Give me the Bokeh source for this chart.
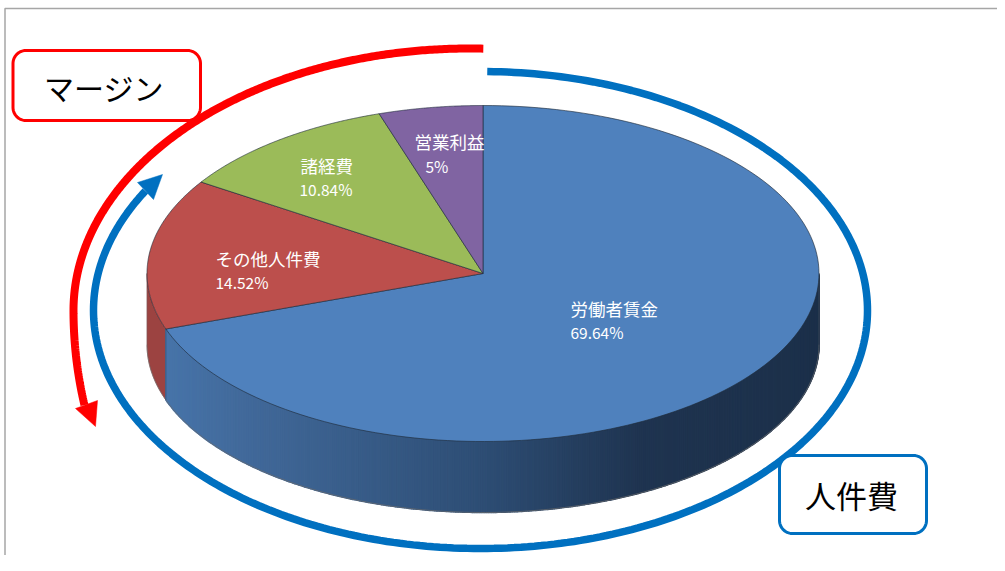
import numpy as np
from bokeh.plotting import figure
from bokeh.models import Range1d
from bokeh.core.properties import value
from bokeh.embed import file_html
from bokeh.resources import INLINE

# ---- data ----
categories = ["労働者賃金", "その他人件費", "諸経費", "営業利益"]
shares = [69.64, 14.52, 10.84, 5]
top_colors = ["#4f81bd", "#bc4f4c", "#9bbb59", "#8064a2"]
label_xy = [(570, 308), (215, 258), (300, 165), (414, 141)]
value_xy = [(570, 331), (215, 281), (299, 188), (425, 165)]

W, H = 997, 555
CX, CY, RX, RY, DEPTH = 482.5, 273, 336, 168, 71
FONT = value("Noto Sans CJK JP")

p = figure(width=W, height=H, output_backend="svg", toolbar_location=None,
           x_range=Range1d(0, W), y_range=Range1d(H, 0),
           min_border=0, outline_line_color=None, background_fill_color="white")
p.axis.visible = False
p.grid.visible = False

def rim(t, dy=0.0):
    return CX + RX * np.sin(t), CY + dy - RY * np.cos(t)

cum = np.concatenate([[0], np.cumsum(shares)]) / sum(shares) * 2 * np.pi

# frame
p.line([4.5, 4.5, W], [H, 8, 8], line_color="#a6a6a6", line_width=1.5)

# side walls: red piece
t0, t1 = cum[1], 1.5 * np.pi
ts = np.linspace(t0, t1, 40)
x1, y1 = rim(ts)
x2, y2 = rim(ts[::-1], DEPTH)
p.patch(np.r_[x1, x2], np.r_[y1, y2], fill_color="#9c4341", line_color="#9c4341", line_width=0.5)

# side walls: blue piece, shaded strip by strip
stops_x = [165, 240, 480, 640, 819]
stops_rgb = np.array([[0x47, 0x74, 0xa9], [0x42, 0x6a, 0x9b], [0x2e, 0x4e, 0x75],
                      [0x1f, 0x34, 0x50], [0x1c, 0x30, 0x4a]], dtype=float)
edges = np.linspace(0.5 * np.pi, cum[1], 400)
xs, ys, cols = [], [], []
for a, b in zip(edges[:-1], edges[1:]):
    xa, ya = rim(np.array([a, b]))
    xb, yb = rim(np.array([b, a]), DEPTH)
    xs.append(np.r_[xa, xb].tolist())
    ys.append(np.r_[ya, yb].tolist())
    mx = (xa[0] + xa[1]) / 2
    rgb = [np.interp(mx, stops_x, stops_rgb[:, i]) for i in range(3)]
    cols.append("#%02x%02x%02x" % tuple(int(round(c)) for c in rgb))
p.patches(xs, ys, fill_color=cols, line_color=cols, line_width=1.5)

# wall edges
bt = np.linspace(0.5 * np.pi, 1.5 * np.pi, 200)
bx, by = rim(bt, DEPTH)
p.line(bx, by, line_color="#6b6b6b", line_width=1, line_alpha=0.7)
ex, ey = rim(np.array([cum[1]]))
p.line([ex[0], ex[0]], [ey[0], ey[0] + DEPTH], line_color="#2a3a50", line_width=0.8, line_alpha=0.6)
for tv in (0.5 * np.pi, 1.5 * np.pi):
    ex, ey = rim(np.array([tv]))
    p.line([ex[0], ex[0]], [ey[0], ey[0] + DEPTH], line_color="#6b6b6b", line_width=0.8, line_alpha=0.5)

# top faces
for i, c in enumerate(top_colors):
    ts = np.linspace(cum[i], cum[i + 1], 160)
    x, y = rim(ts)
    p.patch(np.r_[CX, x], np.r_[CY, y], fill_color=c, line_color="#1e2b3a",
            line_width=0.9, line_alpha=0.7)

# labels
for name, share, (lx, ly), (vx, vy) in zip(categories, shares, label_xy, value_xy):
    p.text([lx], [ly], text=[name], text_color="white", text_font=FONT,
           text_font_size="17.5px", text_baseline="middle", text_align="left")
    p.text([vx], [vy], text=[f"{share}%"], text_color="white", text_font=FONT,
           text_font_size="15.5px", text_baseline="middle", text_align="left")

# annotation arcs
def arc(cx, cy, rx, ry_up, ry_low, a0, a1, n=300):
    th = np.radians(np.linspace(a0, a1, n))
    s = np.sin(th)
    return cx + rx * np.cos(th), cy - np.where(s >= 0, ry_up, ry_low) * s

rx_, ry_ = arc(469, 310, 396, 262, 405, 88, 193.5)
p.line(rx_, ry_, line_color="#ff0000", line_width=8)
p.patch([75, 97, 95], [408, 400, 426], fill_color="#ff0000", line_color="#ff0000", line_width=0.5)

bx_, by_ = arc(480, 310, 387, 239, 238, 89, -210)
p.line(bx_, by_, line_color="#0070c0", line_width=7.5)
p.patch([137, 162, 153], [182, 174, 199], fill_color="#0070c0", line_color="#0070c0", line_width=0.5)

# callout boxes
def round_box(x0, y0, x1, y1, r):
    xs, ys = [], []
    for cx, cy, a in [(x1 - r, y0 + r, -90), (x1 - r, y1 - r, 0), (x0 + r, y1 - r, 90), (x0 + r, y0 + r, 180)]:
        th = np.radians(np.linspace(a, a + 90, 14))
        xs.extend(cx + r * np.cos(th))
        ys.extend(cy + r * np.sin(th))
    return xs, ys

for (x0, y0, x1, y1), col, txt, size, tx, ty in [
        ((12.5, 50, 200, 120), "#ff0000", "マージン", "30px", 103.5, 86),
        ((779, 455, 926, 533), "#0070c0", "人件費", "31px", 851, 494)]:
    xs, ys = round_box(x0, y0, x1, y1, 13)
    p.patch(xs, ys, fill_color="white", line_color=col, line_width=3)
    p.text([tx], [ty], text=[txt], text_color="black", text_font=FONT,
           text_font_size=size, text_align="center", text_baseline="middle")

open("out.html", "w").write(file_html(p, INLINE))
